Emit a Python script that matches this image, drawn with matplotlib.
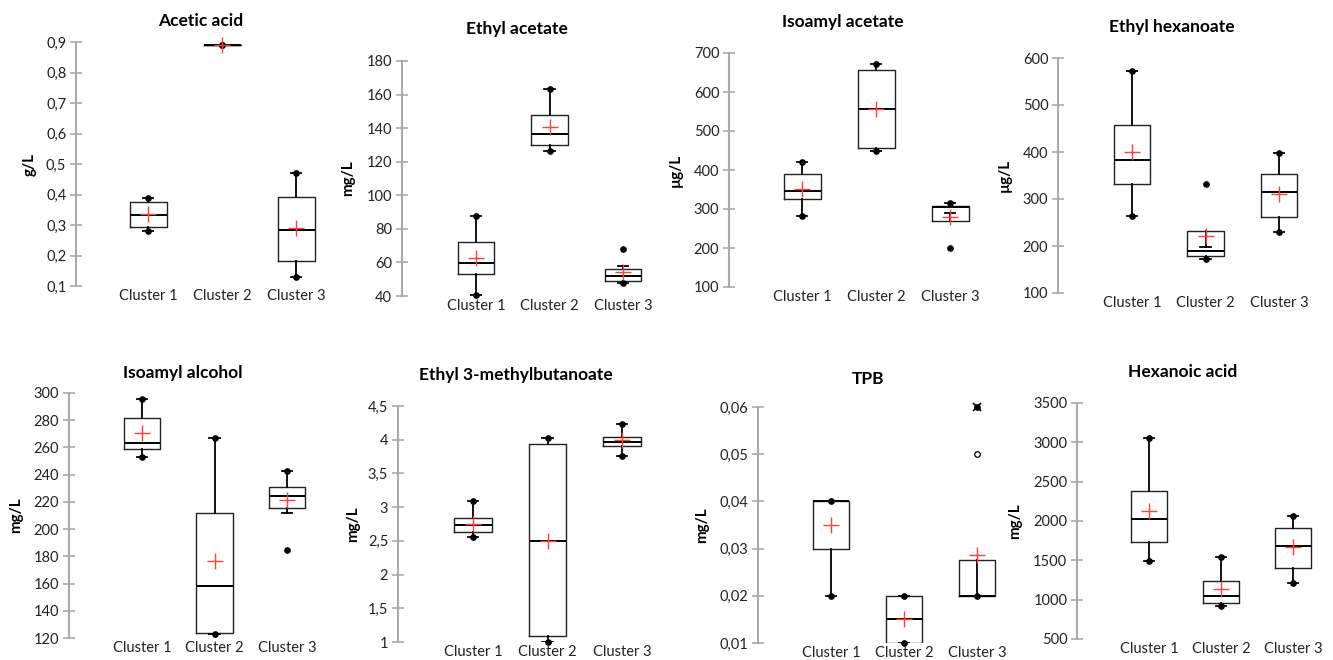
import numpy as np
import matplotlib
matplotlib.use("Agg")
from matplotlib import pyplot as plt
from matplotlib.ticker import FuncFormatter

plt.rcParams['font.family'] = ['Lato', 'DejaVu Sans']

clusters = ["Cluster 1", "Cluster 2", "Cluster 3"]
titles = ["Acetic acid", "Ethyl acetate", "Isoamyl acetate", "Ethyl hexanoate",
          "Isoamyl alcohol", "Ethyl 3-methylbutanoate", "TPB", "Hexanoic acid"]
units = ["g/L", "mg/L", "\u00b5g/L", "\u00b5g/L", "mg/L", "mg/L", "mg/L", "mg/L"]

# one row per compound, one value per cluster
whisker_low = [[0.28, 0.89, 0.13], [40.4, 126.3, 47.5], [282, 448.7, 289], [263.1, 172.3, 229],
               [253.2, 123, 211.6], [2.56, 1.0, 3.757], [0.02, 0.01, 0.02], [1492, 920, 1208]]
q1 = [[0.293, 0.89, 0.181], [53.1, 130, 48.9], [326.5, 456.4, 268.4], [332.6, 178, 261.7],
      [258.9, 123.7, 215.3], [2.629, 1.084, 3.90], [0.03, 0.01, 0.02], [1729, 953, 1403]]
median = [[0.333, 0.89, 0.283], [59.8, 136.8, 52.1], [345.3, 555.6, 304], [383.7, 188.7, 315.6],
          [263.3, 158.4, 224.6], [2.728, 2.505, 3.97], [0.04, 0.015, 0.02], [2030, 1047, 1678]]
q3 = [[0.374, 0.89, 0.393], [71.9, 147.9, 56.3], [390, 656.4, 308], [457.4, 232, 354],
      [281.9, 211.6, 230.7], [2.842, 3.94, 4.045], [0.04, 0.02, 0.0275], [2386, 1237, 1907]]
whisker_high = [[0.39, 0.89, 0.47], [87.8, 163.3, 57.7], [420.5, 672.6, 316], [572.3, 197, 398.6],
                [295.8, 267.2, 242.4], [3.084, 4.02, 4.233], [0.04, 0.02, 0.02], [3055, 1547, 2064]]
means = [[0.335, 0.89, 0.291], [62.4, 140.7, 54.2], [352, 557.3, 279.5], [400, 222, 311.3],
         [270.6, 176.4, 221.1], [2.757, 2.505, 3.995], [0.035, 0.015, 0.0287], [2127, 1136, 1670]]
minimum = [[0.28, 0.89, 0.13], [40.4, 126.3, 47.5], [282, 448.7, 200], [263.1, 172.3, 229],
           [253.2, 123, 184.4], [2.56, 1.0, 3.757], [0.02, 0.01, 0.02], [1492, 920, 1208]]
maximum = [[0.39, 0.89, 0.47], [87.8, 163.3, 68], [420.5, 672.6, 316], [572.3, 332.6, 398.6],
           [295.8, 267.2, 242.4], [3.084, 4.02, 4.233], [0.04, 0.02, 0.06], [3055, 1547, 2064]]
# (compound, cluster, value)
mild_outliers = [(6, 2, 0.05)]
extreme_outliers = [(6, 2, 0.06)]

y_ranges = [(0.1, 0.9, 0.1), (40, 180, 20), (100, 700, 100), (100, 600, 100),
            (120, 300, 20), (1, 4.5, 0.5), (0.01, 0.06, 0.01), (500, 3500, 500)]

# layout in pixels: axis x, cluster 1 x, cluster 3 x, top tick y, bottom tick y
layout = [(76, 148, 296, 42, 286), (402, 476, 623, 61, 296), (729, 802, 950, 53, 287),
          (1058, 1132, 1279, 58, 293), (69, 142, 287, 393, 638), (398, 473, 622, 406, 642),
          (758, 831, 977, 407, 643), (1077, 1149, 1293, 403, 639)]
title_xy = [(201, 21), (517, 29), (843, 22), (1172, 27), (183, 373), (516, 375), (868, 379), (1183, 372)]
ylabel_x = [30, 348, 676, 1005, 16, 353, 702, 1015]

W, H = 1333, 660
fig = plt.figure(figsize=(W / 100, H / 100), dpi=100)

fmt = FuncFormatter(lambda v, p: ('%g' % round(v, 6)).replace('.', ','))

for i in range(8):
    ax_x, c1, c3, yt, yb = layout[i]
    unit = (c3 - c1) / 2.0
    x_left = 1 - (c1 - ax_x) / unit
    x_right = 3.5
    right_px = c1 + (x_right - 1) * unit
    ax = fig.add_axes([ax_x / W, 1 - yb / H, (right_px - ax_x) / W, (yb - yt) / H])
    lo, hi, step = y_ranges[i]

    stats = []
    for k in range(3):
        stats.append(dict(whislo=whisker_low[i][k], q1=q1[i][k], med=median[i][k],
                          q3=q3[i][k], whishi=whisker_high[i][k], fliers=[]))
    ax.bxp(stats, positions=[1, 2, 3], widths=0.5, capwidths=0.14, showfliers=False,
           boxprops=dict(color='#222222', linewidth=1.0),
           medianprops=dict(color='black', linewidth=1.4),
           whiskerprops=dict(color='black', linewidth=1.3),
           capprops=dict(color='black', linewidth=1.3))
    pos = np.array([1, 2, 3])
    ax.plot(pos, minimum[i], 'o', color='black', ms=3.8, zorder=4, clip_on=False)
    ax.plot(pos, maximum[i], 'o', color='black', ms=3.8, zorder=4, clip_on=False)
    ax.plot(pos, means[i], '+', color='#ff4040', ms=11, mew=1.0, zorder=5, clip_on=False)
    for (ci, k, v) in mild_outliers:
        if ci == i:
            ax.plot(k + 1, v, 'o', mfc='white', mec='black', ms=4, mew=0.9, zorder=5, clip_on=False)
    for (ci, k, v) in extreme_outliers:
        if ci == i:
            ax.plot(k + 1, v, 'x', color='black', ms=6, mew=1.2, zorder=5, clip_on=False)

    ax.set_xlim(x_left, x_right)
    ax.set_ylim(lo, hi)
    ax.set_yticks(np.arange(lo, hi + step / 2, step))
    ax.yaxis.set_major_formatter(fmt)
    ax.set_xticks([1, 2, 3])
    ax.set_xticklabels(clusters)
    ax.tick_params(axis='x', length=0, pad=2, labelsize=10.5, colors='#222222')
    ax.tick_params(axis='y', direction='inout', length=8, width=1.2, color='#aaaaaa',
                   labelsize=10.5, labelcolor='#222222', pad=3)
    for s in ['top', 'right', 'bottom']:
        ax.spines[s].set_visible(False)
    ax.spines['left'].set_color('#aaaaaa')
    ax.spines['left'].set_linewidth(1.5)
    ax.patch.set_alpha(0)

    tx, ty = title_xy[i]
    fig.text(tx / W, 1 - ty / H, titles[i], ha='center', va='center',
             fontsize=12.5, fontweight='bold')
    fig.text(ylabel_x[i] / W, 1 - (yt + yb) / 2 / H, units[i], ha='center', va='center',
             rotation=90, fontsize=11, fontweight='bold')

plt.savefig('out.png', dpi=100)
